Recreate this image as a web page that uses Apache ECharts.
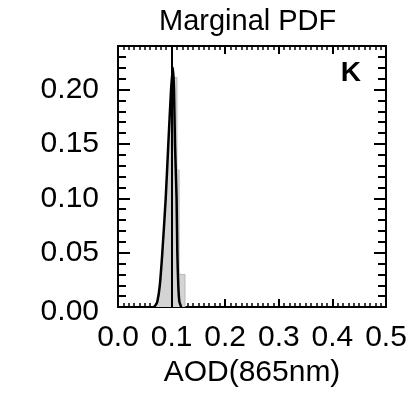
<!DOCTYPE html>
<html>
<head>
<meta charset="utf-8">
<script src="https://cdn.jsdelivr.net/npm/echarts@6/dist/echarts.min.js"></script>
<style>html,body{margin:0;padding:0;background:#fff}#c{width:414px;height:393px}</style>
</head>
<body>
<div id="c"></div>
<script>
// Data
var xTicks = [0.0, 0.1, 0.2, 0.3, 0.4, 0.5];
var yTicks = [0.00, 0.05, 0.10, 0.15, 0.20];
// grey histogram / sample distribution outline
var histX = [0.069, 0.0733, 0.078, 0.0827, 0.089, 0.0939, 0.099, 0.1026, 0.1026, 0.110, 0.110, 0.114, 0.114, 0.125, 0.125];
var histY = [0, 0.005, 0.02, 0.05, 0.10, 0.15, 0.20, 0.215, 0.211, 0.211, 0.126, 0.126, 0.03, 0.03, 0];
// fitted marginal PDF (black curve)
var curveX = [0.066, 0.069, 0.0733, 0.078, 0.0827, 0.089, 0.0939, 0.099, 0.1026, 0.1045, 0.1063, 0.1093, 0.1107, 0.1125, 0.1145, 0.118];
var curveY = [0, 0.001, 0.005, 0.02, 0.05, 0.10, 0.15, 0.20, 0.22, 0.20, 0.15, 0.10, 0.05, 0.02, 0.005, 0];
var meanX = 0.1025;
var title = 'Marginal PDF';
var panel = 'K';
var xName = 'AOD(865nm)';

var FONT = 'Liberation Sans';
var FS = 30;
function zip(a, b) { return a.map(function (v, i) { return [v, b[i]]; }); }

function xAxisDef(pos, show) {
  return {
    type: 'value', min: 0, max: 0.5, interval: 0.1, position: pos,
    axisLine: { show: true, onZero: false, lineStyle: { color: '#000', width: 2 } },
    axisTick: { show: true, inside: true, length: 8, lineStyle: { color: '#000', width: 2 } },
    minorTick: { show: true, splitNumber: 10, length: 4, lineStyle: { color: '#000', width: 1.5 } },
    splitLine: { show: false },
    axisLabel: show ? { show: true, fontSize: FS, fontFamily: FONT, color: '#000', margin: 16,
      formatter: function (v) { return v.toFixed(1); } } : { show: false },
    name: show ? xName : '', nameLocation: 'middle', nameGap: 50,
    nameTextStyle: { fontSize: FS, fontFamily: FONT, color: '#000' }
  };
}
function yAxisDef(pos, major, show) {
  return {
    type: 'value', min: 0, max: 0.24, interval: major ? 0.05 : 0.01, position: pos,
    axisLine: { show: major, onZero: false, lineStyle: { color: '#000', width: 2 } },
    axisTick: { show: true, inside: true, length: major ? 12 : 8, lineStyle: { color: '#000', width: 2 } },
    splitLine: { show: false },
    axisLabel: show ? { show: true, fontSize: FS, fontFamily: FONT, color: '#000', margin: 19,
      formatter: function (v) {
        if (v > 0.221) return '';
        if (v === 0) return '{z|' + v.toFixed(2) + '}';
        return v.toFixed(2);
      },
      rich: { z: { fontSize: FS, fontFamily: FONT, color: '#000', padding: [10, 0, 0, 0] } } } : { show: false }
  };
}

var chart = echarts.init(document.getElementById('c'), null, { renderer: 'canvas' });
chart.setOption({
  animation: false,
  backgroundColor: '#fff',
  title: [
    { text: title, left: 159, top: 7, padding: 0,
      textStyle: { fontSize: 29, fontWeight: 'normal', fontFamily: FONT, color: '#000' } },
    { text: panel, right: 53, top: 59, padding: 0,
      textStyle: { fontSize: 28, fontWeight: 'bold', fontFamily: FONT, color: '#000' } }
  ],
  grid: { left: 118, right: 28, top: 46, bottom: 83 },
  xAxis: [xAxisDef('bottom', true), xAxisDef('top', false)],
  yAxis: [yAxisDef('left', true, true), yAxisDef('left', false, false),
          yAxisDef('right', true, false), yAxisDef('right', false, false)],
  series: [
    { type: 'line', data: zip(histX, histY), symbol: 'none', z: 1,
      lineStyle: { color: '#b8b8b8', width: 1 },
      areaStyle: { color: '#d4d4d4', opacity: 1 } },
    { type: 'line', data: zip(curveX, curveY), symbol: 'none', smooth: 0.2, z: 3,
      lineStyle: { color: '#000', width: 2.5 },
      markLine: { silent: true, symbol: 'none', label: { show: false },
        lineStyle: { color: '#000', width: 2, type: 'solid' },
        data: [{ xAxis: meanX }] } }
  ]
});
</script>
</body>
</html>
